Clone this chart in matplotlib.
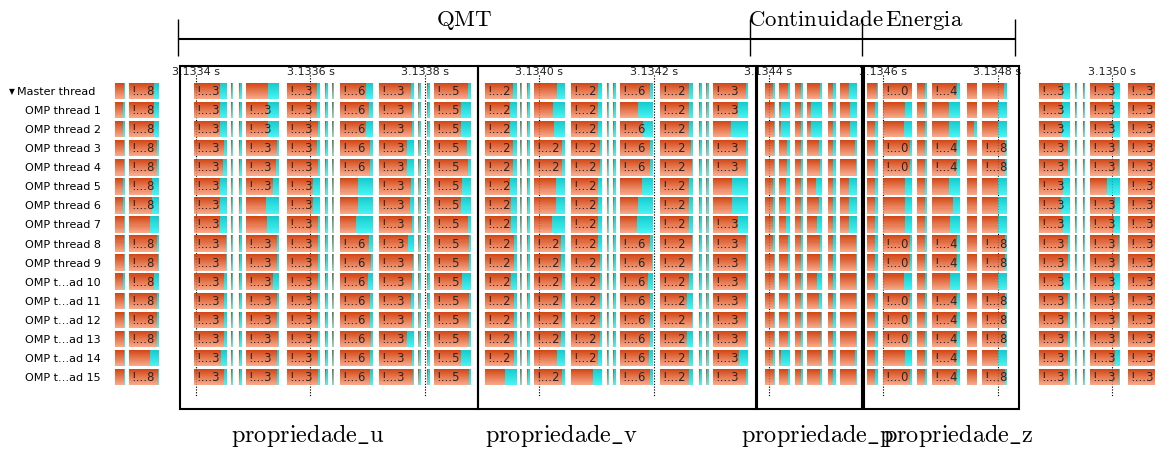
import numpy as np
import matplotlib
matplotlib.use("Agg")
import matplotlib.pyplot as plt
from matplotlib.patches import Rectangle
from matplotlib import transforms
from matplotlib.colors import to_rgb

plt.rcParams['mathtext.fontset'] = 'cm'

threads = ['Master thread', 'OMP thread 1', 'OMP thread 2', 'OMP thread 3', 'OMP thread 4',
           'OMP thread 5', 'OMP thread 6', 'OMP thread 7', 'OMP thread 8', 'OMP thread 9',
           'OMP t\u2026ad 10', 'OMP t\u2026ad 11', 'OMP t\u2026ad 12', 'OMP t\u2026ad 13',
           'OMP t\u2026ad 14', 'OMP t\u2026ad 15']

# time axis, in microseconds after 3.1334 s
tick_pos = [0, 200, 400, 600, 800, 1000, 1200, 1400, 1600]
tick_labels = ['3.1334 s', '3.1336 s', '3.1338 s', '3.1340 s', '3.1342 s',
               '3.1344 s', '3.1346 s', '3.1348 s', '3.1350 s']

# task blocks: L1 L2 | U1..U6 | V1..V6 | P1..P6 | Z1..Z6 | R1..R3
col_start = [-141.5, -117.0,
             -3.5, 87.3, 159.0, 251.5, 319.6, 415.7,
             504.8, 590.4, 655.0, 740.6, 810.5, 903.0,
             993.9, 1018.3, 1046.2, 1067.2, 1103.9, 1124.9,
             1172.1, 1200.0, 1259.4, 1285.6, 1346.7, 1372.9,
             1472.5, 1561.6, 1628.0]
col_end = [-124.0, -64.6,
           54.1, 145.0, 216.6, 309.2, 380.8, 480.3,
           560.7, 644.5, 709.2, 798.2, 868.2, 964.2,
           1011.3, 1037.5, 1060.2, 1093.4, 1117.9, 1154.6,
           1191.3, 1250.7, 1276.8, 1334.5, 1364.2, 1416.6,
           1526.6, 1614.0, 1684.0]

# very short tasks between the big ones
sliver_start = [62.0, 75.1, 226.2, 238.4, 387.8, 403.5, 566.8, 578.2,
                717.9, 728.4, 878.6, 890.8, 1535.3, 1549.3]
sliver_end = [65.5, 79.5, 229.7, 241.9, 393.0, 408.7, 570.3, 583.4,
              721.4, 733.6, 883.9, 896.1, 1538.8, 1552.8]

# label digit of each block per thread ('.' = no label)
labels = [
    '.8 3.3635 2.2623 ...... .0.4.. 333',
    '.8 333635 2.2.23 ...... ...... 333',
    '.8 333635 2.262. ...... ...... 333',
    '.8 333635 222623 ...... .0.4.8 333',
    '.8 333635 222623 ...... .0.4.8 333',
    '.8 333.35 2.2.2. ...... ...... 3.3',
    '.8 3.3.35 2.2.2. ...... ...... 333',
    '.. 3.3.35 2.2.23 ...... ...... 333',
    '.8 333635 222623 ...... .0.4.8 333',
    '.8 333635 222623 ...... .0.4.8 333',
    '.8 333635 222623 ...... ...... 333',
    '.8 333635 222623 ...... .0.4.8 333',
    '.8 333635 222623 ...... .0.4.8 333',
    '.8 333635 222623 ...... .0.4.8 333',
    '.. 333635 2.2623 ...... ...4.. 333',
    '.8 333635 .2.623 ...... .0.4.8 333',
]

# share of each block spent in the cyan state
cyan = [
    [.15, .17, .21, .33, .10, .20, .10, .07, .11, .25, .14, .09, .11, .06, .17, .16, .20, .12, .32, .46, .10, .00, .15, .12, .05, .13, .22, .20, .02],
    [.20, .17, .21, .33, .10, .13, .07, .27, .22, .38, .14, .46, .11, .28, .10, .78, .20, .70, .32, .40, .24, .24, .15, .38, .05, .37, .27, .22, .05],
    [.20, .17, .21, .33, .05, .20, .07, .27, .22, .35, .12, .29, .11, .49, .10, .78, .20, .70, .32, .42, .24, .27, .15, .38, .33, .37, .27, .22, .02],
    [.10, .08, .09, .06, .10, .08, .19, .12, .11, .10, .06, .09, .07, .06, .10, .25, .20, .23, .32, .13, .24, .06, .15, .10, .05, .10, .05, .05, .02],
    [.10, .08, .11, .10, .05, .10, .19, .09, .11, .10, .06, .09, .04, .06, .10, .25, .20, .16, .32, .08, .24, .06, .15, .10, .05, .10, .05, .05, .02],
    [.20, .22, .21, .18, .20, .44, .10, .25, .22, .30, .14, .34, .11, .47, .17, .40, .20, .40, .32, .46, .24, .24, .15, .39, .05, .37, .21, .42, .02],
    [.20, .22, .21, .40, .20, .44, .11, .27, .20, .30, .12, .45, .11, .47, .17, .40, .20, .23, .32, .46, .24, .24, .15, .24, .05, .37, .29, .17, .02],
    [.10, .30, .21, .35, .05, .50, .07, .07, .20, .43, .12, .48, .11, .28, .17, .40, .20, .30, .32, .46, .24, .24, .15, .35, .05, .37, .21, .20, .02],
    [.10, .08, .04, .05, .07, .12, .16, .05, .10, .14, .12, .09, .02, .06, .17, .16, .20, .12, .32, .08, .24, .06, .15, .10, .05, .07, .05, .05, .02],
    [.10, .05, .04, .05, .05, .06, .02, .05, .10, .14, .06, .04, .04, .06, .10, .16, .20, .12, .32, .08, .24, .06, .15, .10, .05, .07, .05, .05, .02],
    [.20, .16, .09, .19, .05, .16, .07, .24, .20, .10, .06, .14, .11, .06, .10, .16, .20, .35, .32, .08, .24, .26, .15, .35, .05, .37, .21, .20, .02],
    [.10, .08, .09, .05, .05, .09, .09, .05, .10, .10, .06, .09, .18, .06, .10, .16, .20, .20, .32, .08, .24, .06, .15, .10, .05, .07, .05, .05, .02],
    [.10, .08, .09, .05, .07, .09, .05, .05, .10, .10, .06, .09, .04, .06, .10, .20, .20, .06, .32, .08, .24, .06, .15, .10, .05, .07, .05, .05, .02],
    [.10, .08, .09, .02, .05, .06, .21, .05, .10, .14, .06, .09, .18, .06, .10, .20, .20, .06, .32, .08, .24, .06, .15, .10, .05, .07, .05, .05, .02],
    [.10, .30, .19, .05, .05, .09, .07, .27, .10, .25, .12, .11, .11, .27, .17, .78, .20, .06, .32, .13, .24, .24, .15, .10, .05, .37, .05, .17, .02],
    [.10, .05, .09, .05, .05, .09, .02, .05, .37, .10, .28, .09, .11, .06, .10, .20, .20, .12, .32, .08, .24, .06, .15, .10, .05, .07, .05, .05, .02],
]

# annotation boxes
sections = ['propriedade\\_u', 'propriedade\\_v', 'propriedade\\_p', 'propriedade\\_z']
box_left = [-27.1, 492.6, 980.0, 1166.8]
box_right = [492.6, 977.3, 1163.3, 1437.5]
section_x = [195.6, 637.5, 1086.4, 1331.0]

# bracket over the boxes
groups = ['QMT', 'Continuidade', 'Energia']
group_x = [468.1, 1083.0, 1271.6]
bracket_ticks = [-31.4, 967.7, 1163.3, 1430.5]

fig = plt.figure(figsize=(11.55, 4.52), dpi=100)
ax = fig.add_axes([0, 0.0929, 1, 0.7589])
ax.set_xlim(-342.35, 1675.1)
ax.set_ylim(16.675, -1.311)
ax.set_axis_off()

start = np.array(col_start)
end = np.array(col_end)
width = end - start
cy = np.array(cyan)
s_start = np.array(sliver_start)
s_end = np.array(sliver_end)

orange_top, orange_bot = np.array(to_rgb('#d24817')), np.array(to_rgb('#f8a889'))
cyan_top, cyan_bot = np.array(to_rgb('#16cbce')), np.array(to_rgb('#46f4f4'))
n_bands = 16
bar_h = 0.865
band_h = bar_h / n_bands

for i in range(len(threads)):
    cut = end - cy[i] * width
    s_cut = s_start + 0.4 * (s_end - s_start)
    y0 = i - bar_h / 2
    for b in range(n_bands):
        f = b / (n_bands - 1)
        yb = y0 + b * band_h
        hb = band_h * (1.0 if b == n_bands - 1 else 1.5)
        oc = orange_top + (orange_bot - orange_top) * f
        cc = cyan_top + (cyan_bot - cyan_top) * f
        ax.broken_barh(list(zip(start, cut - start)), (yb, hb), facecolors=oc, lw=0, zorder=2)
        ax.broken_barh([(c, e - c) for c, e in zip(cut, end) if e > c], (yb, hb),
                       facecolors=cc, lw=0, zorder=2)
        ax.broken_barh(list(zip(s_start, s_cut - s_start)), (yb, hb), facecolors=oc, lw=0, zorder=2)
        ax.broken_barh(list(zip(s_cut, s_end - s_cut)), (yb, hb), facecolors=cc, lw=0, zorder=2)

# block labels
lab_tr = transforms.offset_copy(ax.transData, fig=fig, x=2.5, y=0.5, units='dots')
for i, row in enumerate(labels):
    digits = ''.join(row.split())
    for j, d in enumerate(digits):
        if d != '.':
            ax.text(start[j], i, '!\u2026' + d, transform=lab_tr, fontsize=8.3,
                    color='#262626', va='center', ha='left', zorder=4)

# time ticks
ax.vlines(tick_pos, -0.84, 15.99, colors='k', linestyles=(0, (1, 1.5)), lw=0.8, zorder=1)
ax.vlines(tick_pos, -0.84, 15.99, colors='k', linestyles=(0, (1, 1.5)), lw=0.8, alpha=0.25, zorder=3)
for p, t in zip(tick_pos, tick_labels):
    ax.text(p, -1.05, t, ha='center', va='center', fontsize=8, color='#222222', zorder=3)

# thread names
name_tr = transforms.blended_transform_factory(fig.transFigure, ax.transData)
for i, name in enumerate(threads):
    if i == 0:
        ax.text(95 / 1155, i, name, transform=name_tr, ha='right', va='center', fontsize=8)
        ax.text(12 / 1155, i, '\u25bc', transform=name_tr, ha='center', va='center', fontsize=5.5)
    else:
        ax.text(101 / 1155, i, name, transform=name_tr, ha='right', va='center', fontsize=8)

# property boxes
y_top, y_bot = -1.311, 16.675
for l, r, name, x in zip(box_left, box_right, sections, section_x):
    ax.add_patch(Rectangle((l, y_top), r - l, y_bot - y_top, fill=False, ec='k', lw=1.5,
                           clip_on=False, zorder=5))
    ax.text(x, 18.35, r'$\mathrm{%s}$' % name, ha='center', va='baseline', fontsize=17.5)

# group bracket
ax.plot([bracket_ticks[0], bracket_ticks[-1]], [-2.727, -2.727], color='k', lw=1.5,
        clip_on=False, solid_capstyle='butt')
ax.vlines(bracket_ticks, -3.776, -1.835, colors='k', lw=1.0, clip_on=False)
for g, x in zip(groups, group_x):
    ax.text(x, -3.46, r'$\mathrm{%s}$' % g, ha='center', va='baseline', fontsize=16.5)

fig.savefig('out.png', dpi=100)
